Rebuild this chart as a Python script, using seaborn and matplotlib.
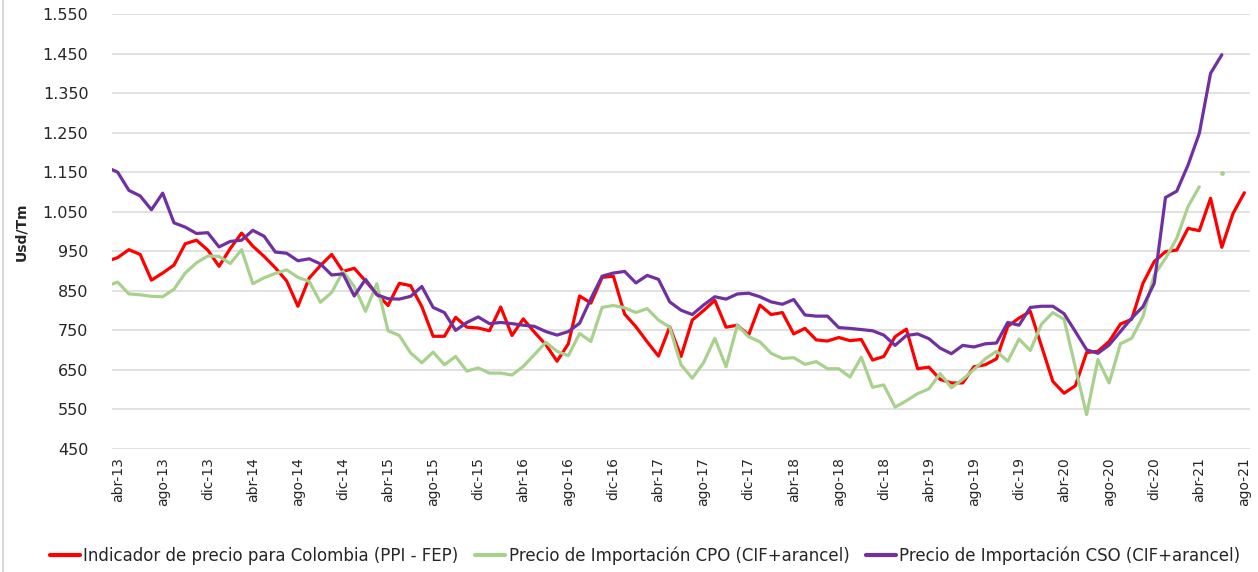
import numpy as np
import pandas as pd
import matplotlib
matplotlib.use("Agg")
import matplotlib.pyplot as plt
import seaborn as sns

# months: mar-13 (clipped at the left edge) .. ago-21
meses = pd.period_range("2013-03", "2021-08", freq="M")

ppi_fep = [924, 934, 954, 942, 877, 895, 915, 969, 978, 953, 912, 957, 996, 963, 937,
           908, 875, 811, 882, 914, 942, 899, 907, 875, 842, 813, 869, 863, 810, 735,
           735, 783, 758, 756, 749, 809, 737, 779, 745, 714, 672, 716, 837, 819, 884,
           887, 791, 759, 721, 685, 759, 684, 776, 800, 826, 758, 763, 738, 814, 790,
           795, 741, 755, 726, 723, 732, 724, 727, 675, 684, 734, 753, 653, 657, 626,
           617, 617, 658, 663, 678, 760, 781, 798, 710, 621, 591, 610, 694, 697, 722,
           766, 778, 869, 924, 949, 953, 1008, 1002, 1084, 960, 1046, 1098]

cpo = [862, 872, 842, 840, 836, 835, 854, 895, 921, 938, 937, 919, 954, 868, 883,
       894, 903, 884, 874, 821, 846, 899, 861, 798, 868, 749, 737, 693, 668, 695,
       663, 684, 647, 655, 642, 642, 637, 659, 689, 720, 697, 686, 742, 722, 808,
       813, 807, 795, 805, 776, 758, 663, 629, 668, 730, 658, 763, 734, 721, 692,
       679, 681, 664, 671, 653, 653, 632, 682, 606, 612, 556, 572, 590, 602, 641,
       605, 626, 651, 678, 697, 672, 728, 699, 766, 795, 778, 656, 537, 676, 617,
       716, 730, 785, 890, 932, 983, 1063, 1113, np.nan, 1149, np.nan, np.nan]

cso = [1163, 1150, 1104, 1090, 1055, 1097, 1022, 1011, 995, 997, 961, 975, 978, 1003, 988,
       948, 945, 926, 931, 918, 890, 893, 837, 879, 840, 830, 829, 836, 861, 808,
       795, 750, 770, 784, 767, 770, 767, 763, 760, 747, 738, 747, 768, 830, 887,
       895, 899, 870, 889, 879, 822, 801, 790, 814, 835, 829, 842, 844, 835, 822,
       816, 828, 789, 786, 786, 757, 755, 752, 749, 738, 712, 737, 741, 729, 705,
       691, 712, 708, 716, 718, 770, 763, 808, 811, 811, 792, 747, 701, 692, 713,
       747, 781, 810, 869, 1086, 1102, 1168, 1248, 1400, 1447, np.nan, np.nan]

series = ["Indicador de precio para Colombia (PPI - FEP)",
          "Precio de Importación CPO (CIF+arancel)",
          "Precio de Importación CSO (CIF+arancel)"]
colores = ["#FF0000", "#A9D18E", "#7030A0"]

tick_labels = ["abr-13", "ago-13", "dic-13", "abr-14", "ago-14", "dic-14", "abr-15",
               "ago-15", "dic-15", "abr-16", "ago-16", "dic-16", "abr-17", "ago-17",
               "dic-17", "abr-18", "ago-18", "dic-18", "abr-19", "ago-19", "dic-19",
               "abr-20", "ago-20", "dic-20", "abr-21", "ago-21"]

# long table, one segment id per unbroken run of values
x = np.arange(len(meses)) - 1
frames = []
for nombre, vals in zip(series, [ppi_fep, cpo, cso]):
    s = pd.Series(vals, dtype=float)
    d = pd.DataFrame({"x": x, "valor": s, "serie": nombre, "seg": s.isna().cumsum()})
    d["solo"] = s.notna() & s.shift(1).isna() & s.shift(-1).isna()
    frames.append(d)
df = pd.concat(frames).dropna(subset=["valor"])

sns.set_style("white")
plt.rcParams["font.family"] = ["DejaVu Sans"]

fig = plt.figure(figsize=(12.58, 5.72), dpi=100)
ax = fig.add_axes([112 / 1258, 1 - 449 / 572, 1138 / 1258, 435 / 572])

sns.lineplot(data=df, x="x", y="valor", hue="serie", units="seg", estimator=None,
             hue_order=series, palette=colores, linewidth=2.3, sort=True, ax=ax)
sns.scatterplot(data=df[df["solo"]], x="x", y="valor", hue="serie", hue_order=series,
                palette=colores, s=12, linewidth=0, legend=False, ax=ax)

ax.set_xlim(-0.5, 100.5)
ax.set_ylim(450, 1550)
ax.set_yticks(range(450, 1551, 100))
ax.set_yticklabels([f"{v:,}".replace(",", ".") for v in range(450, 1551, 100)], fontsize=11.5)
ax.set_xticks(range(0, 101, 4))
ax.set_xticklabels(tick_labels, rotation=90, fontsize=10)
ax.tick_params(axis="y", length=0, pad=17)
ax.tick_params(axis="x", length=0, pad=6)
ax.yaxis.grid(True, color="#D9D9D9", linewidth=1.1)
ax.xaxis.grid(False)
for sp in ax.spines.values():
    sp.set_visible(False)

ax.set_xlabel("")
ax.set_ylabel("Usd/Tm", fontsize=10, fontweight="bold")
ax.yaxis.set_label_coords(-0.074, 0.5)

handles, labels = ax.get_legend_handles_labels()
ax.get_legend().remove()
for h in handles:
    h.set_linewidth(3)
fig.legend(handles, labels, loc="lower center", bbox_to_anchor=(0.513, -0.014), ncol=3,
           frameon=False, handlelength=1.8, handletextpad=0.2, columnspacing=1.0,
           prop={"family": "DejaVu Sans", "size": 12})

# chart border on the left
fig.add_artist(plt.Line2D([3 / 1258, 3 / 1258], [0, 1], color="#D9D9D9", linewidth=1.5))

fig.savefig("out.png", dpi=100, facecolor="white")
